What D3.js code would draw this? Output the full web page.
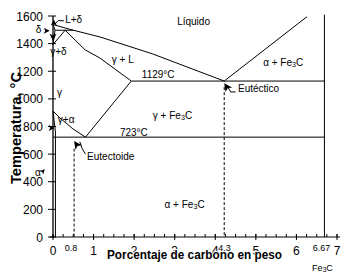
<!DOCTYPE html>
<html><head><meta charset="utf-8">
<script src="https://cdn.jsdelivr.net/npm/d3@7"></script>
<style>
body{margin:0;background:#fff}
svg{display:block}
text{font-family:"Liberation Sans",Arial,sans-serif;fill:#000}
</style>
</head><body>
<svg id="c" width="349" height="273"></svg>
<script>
// ---- data (wt% C, °C) ----
const xMajorTicks = [0, 1, 2, 3, 4, 5, 6, 7];
const xMajorLabels = ["0", "1", "2", "3", "4", "5", "6", "7"];
const xMinorTicks = d3.range(0, 7.01, 0.25);
const xSpecialTicks = [0.52, 4.3, 6.69];
const xSpecialLabels = ["0.8", "4.3", "6.67"];
const yTicks = [0, 200, 400, 600, 800, 1000, 1200, 1400, 1600];
const yTickLabels = ["0", "200", "400", "600", "800", "1000", "1200", "1400", "1600"];

const liquidus = [[0, 1538], [0.5, 1497], [1.16, 1448], [2.46, 1325], [4.22, 1129]];
const deltaSolidus = [[0, 1538], [0.05, 1497]];
const peritectic = [[0.05, 1497], [0.5, 1497]];
const deltaSolvus = [[0.05, 1497], [0, 1394]];
const gammaDelta = [[0, 1394], [0.3, 1497]];
const gammaSolidus = [[0.3, 1497], [0.79, 1355], [1.16, 1295], [1.93, 1129]];
const a3Line = [[0, 912], [0.17, 862], [0.49, 783], [0.8, 723]];
const acmLine = [[0.8, 723], [1.93, 1129]];
const eutecticLine = [[1.93, 1129], [6.69, 1129]];
const eutectoidLine = [[0, 723], [6.69, 723]];
const cementiteLiquidus = [[4.22, 1129], [6.26, 1595]];
const cementiteLine = [[6.69, 1610], [6.69, 0]];
const alphaSolvus = [[0, 912], [0.06, 760], [0.06, 0]];
const dashEutectoid = [[0.52, 640], [0.52, 0]];
const dashEutectic = [[4.22, 1085], [4.22, 0]];

const leaderLd = [[0.27, 1565], [0.13, 1567], [0.04, 1540]];
const leaderEutectoid = [[0.66, 690], [0.72, 640], [0.8, 600]];
const leaderEutectic = [[4.3, 1090], [4.38, 1050], [4.5, 1050]];

// arrows: [c, T, angle(deg, direction the tip points), size]
const arrows = [
  [0.02, 1575, -90, 6],
  [-0.08, 1493, 0, 6],
  [0.0, 1420, 90, 7],
  [0.04, 790, 0, 6],
  [-0.2, 490, -45, 5],
  [0.52, 695, -125, 8],
  [4.22, 1113, -125, 8]
];

// labels: [text, c, T, anchor, size]
const labels = [
  ["Líquido", 3.06, 1535, "start", 10],
  ["L+δ", 0.3, 1549, "start", 10],
  ["δ", -0.29, 1477, "end", 10],
  ["γ+δ", -0.07, 1318, "start", 10],
  ["γ + L", 1.45, 1260, "start", 10],
  ["1129°C", 2.19, 1151, "start", 10],
  ["α + Fe3C", 5.18, 1238, "start", 10],
  ["Eutéctico", 4.56, 1050, "start", 10],
  ["γ", 0.1, 1021, "start", 10],
  ["γ + Fe3C", 2.46, 854, "start", 10],
  ["γ+α", 0.12, 825, "start", 10],
  ["723°C", 1.65, 731, "start", 10],
  ["Eutectoide", 0.84, 557, "start", 10],
  ["α", -0.3, 445, "end", 10],
  ["α + Fe3C", 2.75, 210, "start", 10]
];

// ---- drawing ----
const svg = d3.select("#c");
const x = d3.scaleLinear().domain([0, 7]).range([53, 337]);
const y = d3.scaleLinear().domain([0, 1600]).range([237, 16]);
const line = d3.line().x(d => x(d[0])).y(d => y(d[1]));

function addText(g, str) {
  const parts = str.split(/(Fe3C)/);
  parts.forEach(p => {
    if (p === "Fe3C") {
      g.append("tspan").text("Fe");
      g.append("tspan").attr("font-size", "0.72em").attr("dy", "0.12em").text("3");
      g.append("tspan").attr("dy", "-0.12em").text("C");
    } else if (p.length) {
      g.append("tspan").text(p);
    }
  });
}

// phase lines
[liquidus, deltaSolidus, peritectic, deltaSolvus, gammaDelta, gammaSolidus, a3Line, acmLine,
 eutecticLine, eutectoidLine, cementiteLiquidus, cementiteLine, alphaSolvus,
 leaderLd, leaderEutectoid, leaderEutectic].forEach(d => {
  svg.append("path").attr("d", line(d)).attr("fill", "none").attr("stroke", "#000").attr("stroke-width", 1);
});
[dashEutectoid, dashEutectic].forEach(d => {
  svg.append("path").attr("d", line(d)).attr("fill", "none").attr("stroke", "#000")
    .attr("stroke-width", 1).attr("stroke-dasharray", "3,2");
});

// arrows
arrows.forEach(a => {
  const s = a[3];
  svg.append("path")
    .attr("d", `M0,0 L${-s},${-s * 0.5} L${-s * 0.75},0 L${-s},${s * 0.5} Z`)
    .attr("transform", `translate(${x(a[0])},${y(a[1])}) rotate(${a[2]})`)
    .attr("fill", "#000");
});

// labels
labels.forEach(l => {
  const t = svg.append("text").attr("x", x(l[1])).attr("y", y(l[2]))
    .attr("text-anchor", l[3]).attr("font-size", l[4]);
  addText(t, l[0]);
});

// axes
svg.append("line").attr("x1", x(0)).attr("x2", x(0)).attr("y1", y(1600)).attr("y2", y(0) + 1)
  .attr("stroke", "#000").attr("stroke-width", 1.3);
svg.append("line").attr("x1", x(0) - 3).attr("x2", x(7) + 3).attr("y1", y(0)).attr("y2", y(0))
  .attr("stroke", "#000").attr("stroke-width", 1);

svg.selectAll(".ytick").data(yTicks).join("line")
  .attr("x1", x(0) - 5).attr("x2", x(0) + 3).attr("y1", d => y(d)).attr("y2", d => y(d))
  .attr("stroke", "#000");
svg.selectAll(".ylab").data(yTicks).join("text")
  .attr("x", x(0) - 10).attr("y", d => y(d) + 4.5).attr("text-anchor", "end")
  .attr("font-size", 12).text((d, i) => yTickLabels[i]);

svg.selectAll(".xminor").data(xMinorTicks).join("line")
  .attr("x1", d => x(d)).attr("x2", d => x(d)).attr("y1", y(0) - 3).attr("y2", y(0))
  .attr("stroke", "#000");
svg.selectAll(".xmajor").data(xMajorTicks).join("line")
  .attr("x1", d => x(d)).attr("x2", d => x(d)).attr("y1", y(0) - 3).attr("y2", y(0) + 3)
  .attr("stroke", "#000");
svg.selectAll(".xlab").data(xMajorTicks).join("text")
  .attr("x", d => x(d)).attr("y", y(0) + 18).attr("text-anchor", "middle")
  .attr("font-size", 12).text((d, i) => xMajorLabels[i]);
svg.selectAll(".xspec").data(xSpecialTicks).join("text")
  .attr("x", d => x(d) - 3).attr("y", y(0) + 14).attr("text-anchor", "middle")
  .attr("font-size", 9).text((d, i) => xSpecialLabels[i]);

// Fe3C under 6.67
const fe = svg.append("text").attr("x", x(6.69) - 2).attr("y", 271).attr("text-anchor", "middle").attr("font-size", 9);
addText(fe, "Fe3C");

// axis titles
svg.append("text").attr("x", 107).attr("y", 259).attr("font-size", 13).attr("font-weight", "bold")
  .attr("textLength", 175).attr("lengthAdjust", "spacingAndGlyphs")
  .attr("stroke", "#fff").attr("stroke-width", 2).attr("paint-order", "stroke")
  .text("Porcentaje de carbono en peso");
svg.append("text").attr("transform", "translate(21,128) rotate(-90)")
  .attr("text-anchor", "middle").attr("font-size", 14).attr("font-weight", "bold")
  .attr("textLength", 112).attr("lengthAdjust", "spacingAndGlyphs")
  .text("Temperatura, °C");
</script>
</body></html>
